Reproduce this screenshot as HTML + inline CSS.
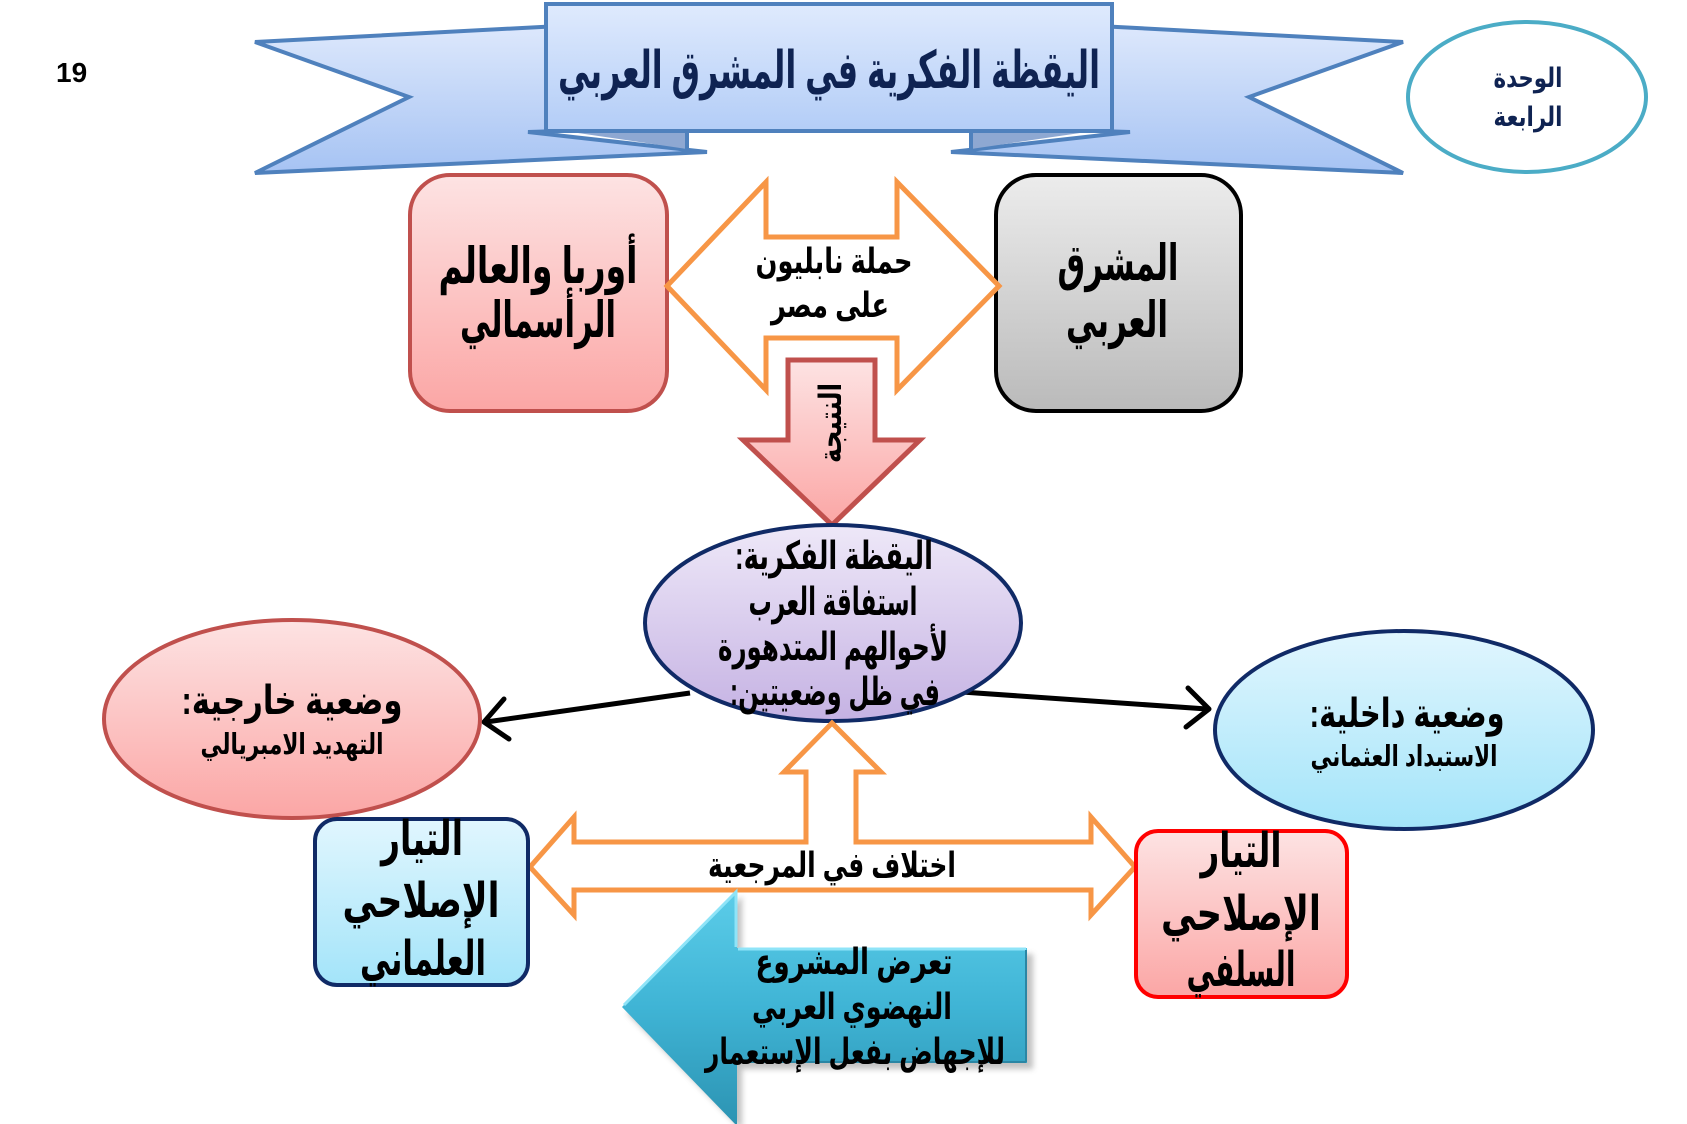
<!DOCTYPE html>
<html><head><meta charset="utf-8"><style>
html,body{margin:0;padding:0;background:#fff;}
svg{display:block;}
text{font-family:"Liberation Sans","DejaVu Sans",sans-serif;font-weight:bold;direction:rtl;unicode-bidi:embed;}
</style></head><body>
<svg width="1687" height="1124" viewBox="0 0 1687 1124" xmlns="http://www.w3.org/2000/svg">
<defs>
<linearGradient id="gBanner" x1="0" y1="0" x2="0" y2="1"><stop offset="0" stop-color="#dde8fc"/><stop offset="1" stop-color="#a6c3f3"/></linearGradient>
<linearGradient id="gRect" x1="0" y1="0" x2="0" y2="1"><stop offset="0" stop-color="#dfeafd"/><stop offset="1" stop-color="#b3cdf7"/></linearGradient>
<linearGradient id="gPink" x1="0" y1="0" x2="0" y2="1"><stop offset="0" stop-color="#fde3e3"/><stop offset="1" stop-color="#fba6a5"/></linearGradient>
<linearGradient id="gGray" x1="0" y1="0" x2="0" y2="1"><stop offset="0" stop-color="#ececec"/><stop offset="1" stop-color="#bababa"/></linearGradient>
<linearGradient id="gLav" x1="0" y1="0" x2="0" y2="1"><stop offset="0" stop-color="#eee8f8"/><stop offset="1" stop-color="#c5b2e3"/></linearGradient>
<linearGradient id="gBlue" x1="0" y1="0" x2="0" y2="1"><stop offset="0" stop-color="#e1f6fe"/><stop offset="1" stop-color="#a3e4f9"/></linearGradient>
<linearGradient id="gTeal" x1="0" y1="0" x2="0" y2="1"><stop offset="0" stop-color="#5ccde9"/><stop offset="0.5" stop-color="#3fb4d5"/><stop offset="1" stop-color="#2c93b2"/></linearGradient>
<filter id="shadow" x="-20%" y="-20%" width="140%" height="140%"><feGaussianBlur stdDeviation="3"/></filter>
</defs>

<!-- page number -->
<text x="56" y="82" font-size="28" style="direction:ltr" fill="#000">19</text>

<!-- Banner left tail -->
<polygon points="255,42 560,26 560,131 528,132 707,152 255,173 409,97" fill="url(#gBanner)" stroke="#4f81bd" stroke-width="4" stroke-linejoin="miter"/>
<polygon points="578,133 687,130 687,149" fill="#8ea8d2"/>
<line x1="687" y1="129" x2="687" y2="151" stroke="#4f81bd" stroke-width="4"/>
<!-- Banner right tail -->
<polygon points="1403,42 1098,26 1098,131 1130,132 951,152 1403,173 1249,97" fill="url(#gBanner)" stroke="#4f81bd" stroke-width="4" stroke-linejoin="miter"/>
<polygon points="1080,133 971,130 971,149" fill="#8ea8d2"/>
<line x1="971" y1="129" x2="971" y2="151" stroke="#4f81bd" stroke-width="4"/>
<!-- Banner center -->
<rect x="546" y="4" width="566" height="127" fill="url(#gRect)" stroke="#4f81bd" stroke-width="4"/>
<text x="829" y="88" font-size="52" fill="#0f2352" text-anchor="middle" textLength="542" lengthAdjust="spacingAndGlyphs">اليقظة الفكرية في المشرق العربي</text>

<!-- Unit circle -->
<ellipse cx="1527" cy="97" rx="119" ry="75" fill="#fff" stroke="#4bacc6" stroke-width="4"/>
<text x="1528" y="87" font-size="27" fill="#0f2352" text-anchor="middle" textLength="69" lengthAdjust="spacingAndGlyphs">الوحدة</text>
<text x="1528" y="126" font-size="27" fill="#0f2352" text-anchor="middle" textLength="69" lengthAdjust="spacingAndGlyphs">الرابعة</text>

<!-- Top boxes -->
<rect x="410" y="175" width="257" height="236" rx="40" ry="40" fill="url(#gPink)" stroke="#c0504d" stroke-width="4"/>
<text x="538" y="283" font-size="50" fill="#000" text-anchor="middle" textLength="199" lengthAdjust="spacingAndGlyphs">أوربا والعالم</text>
<text x="538" y="337" font-size="50" fill="#000" text-anchor="middle" textLength="156" lengthAdjust="spacingAndGlyphs">الرأسمالي</text>

<rect x="996" y="175" width="245" height="236" rx="40" ry="40" fill="url(#gGray)" stroke="#000" stroke-width="4"/>
<text x="1118" y="280" font-size="50" fill="#000" text-anchor="middle" textLength="121" lengthAdjust="spacingAndGlyphs">المشرق</text>
<text x="1117" y="337" font-size="50" fill="#000" text-anchor="middle" textLength="102" lengthAdjust="spacingAndGlyphs">العربي</text>

<!-- Orange double arrow top -->
<polygon points="667,286 766,182 766,237 897,237 897,182 999,286 897,390 897,338 766,338 766,390" fill="#fff" stroke="#f79646" stroke-width="5" stroke-linejoin="miter"/>
<text x="834" y="273" font-size="35" fill="#000" text-anchor="middle" textLength="157" lengthAdjust="spacingAndGlyphs">حملة نابليون</text>
<text x="830" y="317" font-size="35" fill="#000" text-anchor="middle" textLength="118" lengthAdjust="spacingAndGlyphs">على مصر</text>

<!-- Down arrow -->
<polygon points="788,360 875,360 875,440 920,440 832,525 743,440 788,440" fill="url(#gPink)" stroke="#c0504d" stroke-width="5" stroke-linejoin="miter"/>
<g transform="translate(841,423) rotate(-90)">
<text x="0" y="0" font-size="31" fill="#000" text-anchor="middle" textLength="80" lengthAdjust="spacingAndGlyphs">النتيجة</text>
</g>

<!-- Black arrows -->
<line x1="690" y1="693" x2="486" y2="722" stroke="#000" stroke-width="5"/>
<polyline points="509,739 484,722 504,699" fill="none" stroke="#000" stroke-width="5" stroke-linecap="round" stroke-linejoin="round"/>
<line x1="962" y1="692" x2="1207" y2="709" stroke="#000" stroke-width="5"/>
<polyline points="1188,688 1209,709 1186,727" fill="none" stroke="#000" stroke-width="5" stroke-linecap="round" stroke-linejoin="round"/>

<!-- Center ellipse -->
<ellipse cx="833" cy="623" rx="188" ry="98" fill="url(#gLav)" stroke="#102a66" stroke-width="4"/>
<text x="834" y="569" font-size="39" fill="#000" text-anchor="middle" textLength="198" lengthAdjust="spacingAndGlyphs">اليقظة الفكرية:</text>
<text x="833" y="615" font-size="39" fill="#000" text-anchor="middle" textLength="169" lengthAdjust="spacingAndGlyphs">استفاقة العرب</text>
<text x="833" y="660" font-size="39" fill="#000" text-anchor="middle" textLength="230" lengthAdjust="spacingAndGlyphs">لأحوالهم المتدهورة</text>
<text x="835" y="705" font-size="39" fill="#000" text-anchor="middle" textLength="210" lengthAdjust="spacingAndGlyphs">في ظل وضعيتين:</text>

<!-- Left ellipse -->
<ellipse cx="292" cy="719" rx="188" ry="99" fill="url(#gPink)" stroke="#c0504d" stroke-width="4"/>
<text x="292" y="714" font-size="40" fill="#000" text-anchor="middle" textLength="221" lengthAdjust="spacingAndGlyphs">وضعية خارجية:</text>
<text x="292" y="754" font-size="29" fill="#000" text-anchor="middle" textLength="183" lengthAdjust="spacingAndGlyphs">التهديد الامبريالي</text>

<!-- Right ellipse -->
<ellipse cx="1404" cy="730" rx="189" ry="99" fill="url(#gBlue)" stroke="#102a66" stroke-width="4"/>
<text x="1407" y="727" font-size="40" fill="#000" text-anchor="middle" textLength="195" lengthAdjust="spacingAndGlyphs">وضعية داخلية:</text>
<text x="1404" y="766" font-size="29" fill="#000" text-anchor="middle" textLength="187" lengthAdjust="spacingAndGlyphs">الاستبداد العثماني</text>

<!-- T orange arrow -->
<polygon points="832,723 881,772 856,772 856,842 1091,842 1091,817 1135,867 1091,915 1091,890 574,890 574,915 530,867 574,817 574,842 806,842 806,772 784,772" fill="#fff" stroke="#f79646" stroke-width="5" stroke-linejoin="miter"/>
<text x="832" y="877" font-size="35" fill="#000" text-anchor="middle" textLength="248" lengthAdjust="spacingAndGlyphs">اختلاف في المرجعية</text>

<!-- Bottom boxes -->
<rect x="315" y="819" width="213" height="166" rx="22" ry="22" fill="url(#gBlue)" stroke="#102a66" stroke-width="4"/>
<text x="422" y="855" font-size="48" fill="#000" text-anchor="middle" textLength="82" lengthAdjust="spacingAndGlyphs">التيار</text>
<text x="421" y="917" font-size="48" fill="#000" text-anchor="middle" textLength="157" lengthAdjust="spacingAndGlyphs">الإصلاحي</text>
<text x="423" y="975" font-size="48" fill="#000" text-anchor="middle" textLength="126" lengthAdjust="spacingAndGlyphs">العلماني</text>

<rect x="1136" y="831" width="211" height="166" rx="22" ry="22" fill="url(#gPink)" stroke="#ff0000" stroke-width="4"/>
<text x="1241" y="867" font-size="48" fill="#000" text-anchor="middle" textLength="81" lengthAdjust="spacingAndGlyphs">التيار</text>
<text x="1241" y="930" font-size="48" fill="#000" text-anchor="middle" textLength="160" lengthAdjust="spacingAndGlyphs">الإصلاحي</text>
<text x="1241" y="986" font-size="48" fill="#000" text-anchor="middle" textLength="109" lengthAdjust="spacingAndGlyphs">السلفي</text>

<!-- Teal arrow -->
<polygon points="627,1013 742,896 742,954 1033,954 1033,1069 742,1069 742,1130" fill="#777" opacity="0.45" filter="url(#shadow)"/>
<polygon points="622,1007 737,890 737,948 1027,948 1027,1063 737,1063 737,1126" fill="url(#gTeal)"/>
<polyline points="624,1005 736,892 736,947" fill="none" stroke="#8fe4f8" stroke-width="3"/>
<line x1="738" y1="949" x2="1026" y2="949" stroke="#8fe4f8" stroke-width="3"/>
<line x1="1026" y1="950" x2="1026" y2="1062" stroke="#2a86a4" stroke-width="2"/>
<line x1="738" y1="1062" x2="1026" y2="1062" stroke="#2a86a4" stroke-width="2"/>
<text x="854" y="974" font-size="36" fill="#000" text-anchor="middle" textLength="197" lengthAdjust="spacingAndGlyphs">تعرض المشروع</text>
<text x="852" y="1019" font-size="36" fill="#000" text-anchor="middle" textLength="200" lengthAdjust="spacingAndGlyphs">النهضوي العربي</text>
<text x="855" y="1064" font-size="36" fill="#000" text-anchor="middle" textLength="300" lengthAdjust="spacingAndGlyphs">للإجهاض بفعل الإستعمار</text>
</svg>
</body></html>
